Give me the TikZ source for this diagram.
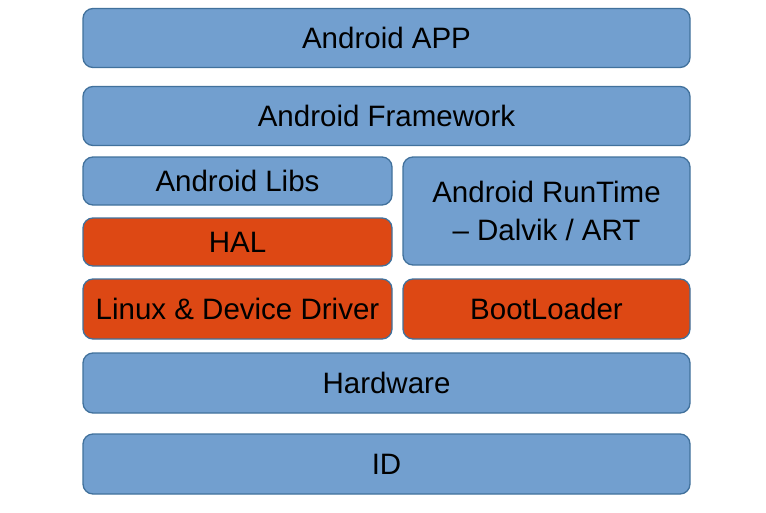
\documentclass[tikz,border=0pt]{standalone}
\usepackage{fontspec}
\setmainfont{Liberation Sans}
\usetikzlibrary{positioning}

\definecolor{layerblue}{RGB}{114,159,207}
\definecolor{layerorange}{RGB}{221,72,20}
\definecolor{layerline}{RGB}{65,113,156}

\begin{document}
\begin{tikzpicture}[%
		layer/.style={%
			draw=layerline,
			line width=1.3pt,
			fill=layerblue,
			rounded corners=10pt,
			minimum height=59pt,
			inner sep=0pt,
			outer sep=0pt,
			align=center,
			font=\fontsize{29.5}{38}\selectfont
		},
		wide/.style={layer, minimum width=607pt},
		half/.style={layer, minimum width=309pt, minimum height=48pt},
		side/.style={layer, minimum width=287pt},
		hot/.style={fill=layerorange}
		]
		\useasboundingbox (0,0) rectangle (766pt,-512pt);
		\node[wide] (app) at (386.5pt,-38pt)                              {Android APP};
		\node[wide] (fw) [below=19pt of app]                              {Android Framework};
		\node[half] (libs) [below=11.5pt of fw.south west, anchor=north west] {Android Libs};
		\node[half, hot] (hal) [below=13pt of libs]                       {HAL};
		\node[side, minimum height=108pt] (rt) [below=11.5pt of fw.south east, anchor=north east] {Android RunTime\\– Dalvik / ART};
		\node[half, hot, minimum height=60pt] (linux) [below=13pt of hal] {Linux \& Device Driver};
		\node[side, hot, minimum height=60pt] (boot) [below=14pt of rt.south east, anchor=north east] {BootLoader};
		\node[wide, minimum height=60pt] (hw) [below=14pt of linux.south west, anchor=north west] {Hardware};
		\node[wide, minimum height=60pt] (id) [below=21pt of hw]          {ID};
\end{tikzpicture}
\end{document}
